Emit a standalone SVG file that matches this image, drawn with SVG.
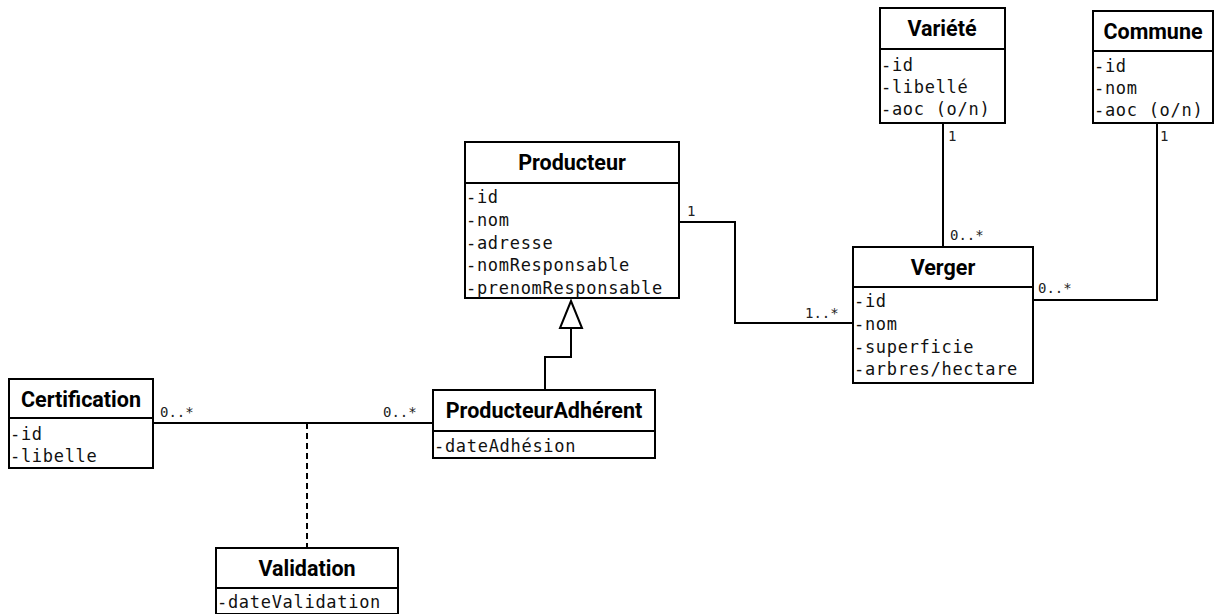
<svg xmlns="http://www.w3.org/2000/svg" width="1217" height="614" viewBox="0 0 1217 614">
<style>
.box{fill:#fff;stroke:#000;stroke-width:2}
.div{stroke:#000;stroke-width:2}
.h{font-family:Roboto,"Liberation Sans",sans-serif;font-weight:bold;font-size:21.5px;text-anchor:middle;fill:#000}
.a{font-family:"DejaVu Sans Mono","Liberation Mono",monospace;font-size:17px;letter-spacing:0.7px;fill:#111}
.m{font-family:"DejaVu Sans Mono","Liberation Mono",monospace;font-size:14px;fill:#222}
.c{fill:none;stroke:#000;stroke-width:2}
</style>
<g id="connectors">
<polyline class="c" points="679,222 735,222 735,323 853,323"/>
<line class="c" x1="943" y1="123" x2="943" y2="247"/>
<polyline class="c" points="1033,300 1157,300 1157,123"/>
<polyline class="c" points="545,390 545,357 571,357 571,328"/>
<polygon points="571,301 560,328 582,328" fill="#fff" stroke="#000" stroke-width="2"/>
<line class="c" x1="153" y1="423" x2="433" y2="423"/>
<line class="c" x1="307" y1="423" x2="307" y2="548" stroke-dasharray="6,4"/>
<text class="m" x="687" y="216">1</text>
<text class="m" x="805" y="318">1..*</text>
<text class="m" x="948" y="141">1</text>
<text class="m" x="950" y="240">0..*</text>
<text class="m" x="1160" y="141">1</text>
<text class="m" x="1038" y="293">0..*</text>
<text class="m" x="160" y="417">0..*</text>
<text class="m" x="383" y="417">0..*</text>
</g>
<g id="producteur">
<rect class="box" x="465" y="142" width="214" height="156"/>
<line class="div" x1="465" y1="183" x2="679" y2="183"/>
<text class="h" x="572" y="170">Producteur</text>
<text class="a" x="466" y="203">-id</text>
<text class="a" x="466" y="226">-nom</text>
<text class="a" x="466" y="249">-adresse</text>
<text class="a" x="466" y="271">-nomResponsable</text>
<text class="a" x="466" y="294">-prenomResponsable</text>
</g>
<g id="variete">
<rect class="box" x="880" y="8" width="125" height="115"/>
<line class="div" x1="880" y1="49" x2="1005" y2="49"/>
<text class="h" x="942" y="36">Variété</text>
<text class="a" x="881" y="71">-id</text>
<text class="a" x="881" y="93">-libellé</text>
<text class="a" x="881" y="115">-aoc (o/n)</text>
</g>
<g id="commune">
<rect class="box" x="1093" y="11" width="120" height="112"/>
<line class="div" x1="1093" y1="51" x2="1213" y2="51"/>
<text class="h" x="1153" y="39">Commune</text>
<text class="a" x="1094" y="72">-id</text>
<text class="a" x="1094" y="94">-nom</text>
<text class="a" x="1094" y="116">-aoc (o/n)</text>
</g>
<g id="verger">
<rect class="box" x="853" y="247" width="180" height="136"/>
<line class="div" x1="853" y1="287" x2="1033" y2="287"/>
<text class="h" x="943" y="275">Verger</text>
<text class="a" x="854" y="307">-id</text>
<text class="a" x="854" y="330">-nom</text>
<text class="a" x="854" y="353">-superficie</text>
<text class="a" x="854" y="375">-arbres/hectare</text>
</g>
<g id="certification">
<rect class="box" x="9" y="379" width="144" height="89"/>
<line class="div" x1="9" y1="418" x2="153" y2="418"/>
<text class="h" x="81" y="407">Certification</text>
<text class="a" x="10" y="440">-id</text>
<text class="a" x="10" y="462">-libelle</text>
</g>
<g id="producteurAdherent">
<rect class="box" x="433" y="390" width="222" height="68"/>
<line class="div" x1="433" y1="431" x2="655" y2="431"/>
<text class="h" x="544" y="418">ProducteurAdhérent</text>
<text class="a" x="434" y="452">-dateAdhésion</text>
</g>
<g id="validation">
<rect class="box" x="216" y="548" width="182" height="66"/>
<line class="div" x1="216" y1="588" x2="398" y2="588"/>
<text class="h" x="307" y="576">Validation</text>
<text class="a" x="217" y="608">-dateValidation</text>
</g>
</svg>
